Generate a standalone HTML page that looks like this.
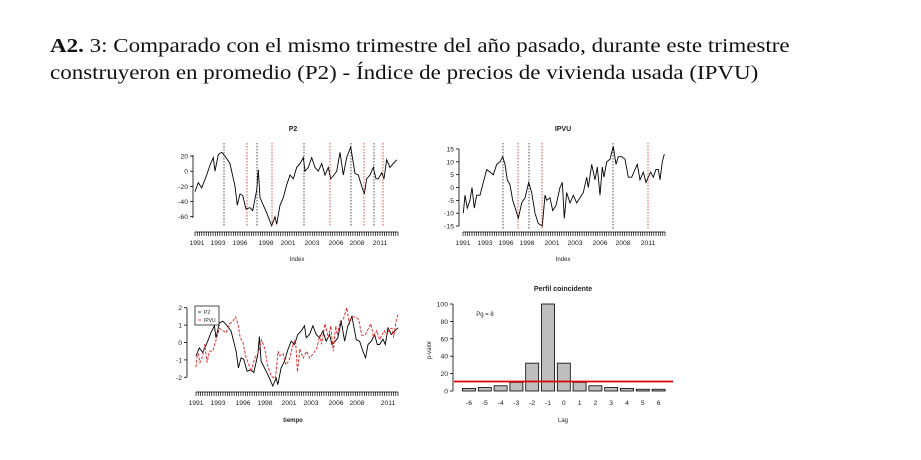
<!DOCTYPE html>
<html><head><meta charset="utf-8"><style>
body{margin:0;background:#fff;width:921px;height:460px;overflow:hidden}
.h{position:absolute;left:50px;font-family:"Liberation Serif",serif;font-size:20px;color:#111;white-space:nowrap;transform-origin:0 0;transform:scaleX(1.15)}
svg{position:absolute;left:0;top:0}
svg text{font-family:"Liberation Sans",sans-serif;fill:#222}
</style></head><body>
<div class="h" style="top:35px"><b>A2.</b> 3: Comparado con el mismo trimestre del año pasado, durante este trimestre</div>
<div class="h" style="top:62px">construyeron en promedio (P2) - Índice de precios de vivienda usada (IPVU)</div>
<svg id="s" width="921" height="460" xmlns="http://www.w3.org/2000/svg">
<g font-size="7" text-anchor="middle">
<text x="293" y="131" font-weight="bold">P2</text>
<text x="563" y="131" font-weight="bold">IPVU</text>
<text x="563" y="291" font-weight="bold">Perfil coincidente</text>
<text x="297" y="261" font-size="6">Index</text>
<text x="563" y="261" font-size="6">Index</text>
<text x="293" y="422" font-size="6" font-weight="bold">tiempo</text>
<text x="563" y="422" font-size="6">Lag</text>
<text x="0" y="0" font-size="6" transform="translate(431,350) rotate(-90)">p-valor</text>
<text x="485" y="316" font-size="6">Pg = 8</text>
</g>
<g id="g"></g>
</svg>
<script>
var g=document.getElementById('g'),h='';
function L(x1,y1,x2,y2,c,w,d){h+='<line x1="'+x1+'" y1="'+y1+'" x2="'+x2+'" y2="'+y2+'" stroke="'+(c||'#000')+'" stroke-width="'+(w||0.8)+'"'+(d?' stroke-dasharray="'+d+'"':'')+'/>';}
function T(x,y,s,a){h+='<text x="'+x+'" y="'+y+'" font-size="6.8" text-anchor="'+(a||'middle')+'">'+s+'</text>';}
function P(pts,c,d,w){h+='<polyline fill="none" stroke="'+c+'" stroke-width="'+(w||0.9)+'"'+(d?' stroke-dasharray="'+d+'"':'')+' points="'+pts.map(function(p){return p[0].toFixed(1)+','+p[1].toFixed(1)}).join(' ')+'"/>';}
var P2=[[105,-27],[115,-15],[125,-22],[140,-5],[150,8],[160,18],[165,0],[175,22],[185,25],[195,20],[210,10],[225,-20],[232,-45],[240,-30],[248,-32],[258,-50],[270,-48],[278,-52],[290,-25],[295,2],[300,-35],[320,-55],[335,-72],[345,-60],[350,-70],[360,-45],[370,-35],[380,-18],[390,-5],[400,-10],[410,5],[420,10],[430,18],[435,0],[445,5],[455,18],[465,5],[475,0],[485,10],[495,-5],[505,5],[512,-10],[522,-5],[530,0],[540,25],[550,-5],[560,18],[572,32],[585,-3],[595,-5],[605,-20],[613,-30],[620,-10],[630,-5],[640,5],[648,-10],[655,-10],[665,-2],[672,-10],[680,15],[690,5],[700,10],[710,15]];
var IP=[[100,-10],[105,-3],[112,-8],[120,-5],[126,0],[133,-8],[140,-3],[150,-3],[160,2],[170,7],[180,6],[190,5],[200,9],[210,10],[218,12],[225,9],[232,3],[240,1],[248,-5],[258,-9],[265,-12],[275,-6],[285,-4],[296,2],[305,-2],[315,-10],[325,-14],[337,-15],[345,-3],[350,-5],[360,-4],[368,-9],[378,-7],[390,0],[397,2],[403,-12],[410,-2],[420,-6],[430,-3],[440,-6],[450,-4],[460,-2],[470,4],[475,0],[485,9],[495,3],[502,8],[510,-3],[517,8],[522,4],[530,10],[540,11],[550,16],[558,9],[565,12],[575,12],[585,11],[595,4],[605,4],[615,7],[622,9],[630,3],[640,6],[648,2],[655,4],[662,6],[670,4],[678,7],[685,7],[690,3],[697,10],[703,13]];
function axisX(x0,x1,y,labs){L(x0,y,x1,y);for(var i=0;i<=90;i++){var x=x0+(x1-x0)*i/90;L(x,y,x,y+4,'#000',0.7);}labs.forEach(function(l){T(l[0],y+13,l[1]);});}
var yrs=['1991','1993','1996','1998','2001','2003','2006','2008','2011'];
var p=P2.map(function(a){return [a[0]/3+160,171.2-0.758*a[1]];});P(p,'#000');
L(193,155,193,218);[20,0,-20,-40,-60].forEach(function(v){var y=171.2-0.758*v;L(190,y,193,y);T(188,y+2.5,v,'end');});
[[224,'#000'],[247,'#c00'],[257,'#000'],[272,'#c00'],[304,'#000'],[330,'#c00'],[351,'#000'],[364,'#c00'],[374,'#000'],[383,'#c00']].forEach(function(d){L(d[0],143,d[0],226,d[1],0.7,'1.5,1.5');});
axisX(195,398,232,[197,218,240,266,288,312,336,357,380].map(function(x,i){return [x,yrs[i]]}));
p=IP.map(function(a){return [a[0]/3+430,187.5-2.57*a[1]];});P(p,'#000');
L(459,149,459,226);[15,10,5,0,-5,-10,-15].forEach(function(v){var y=187.5-2.57*v;L(456,y,459,y);T(454,y+2.5,v,'end');});
[[503,'#000'],[518,'#c00'],[529,'#000'],[542,'#c00'],[613,'#000'],[648,'#c00']].forEach(function(d){L(d[0],143,d[0],229,d[1],0.7,'1.5,1.5');});
axisX(463,665,232,[463,485,506,527,552,575,600,623,648].map(function(x,i){return [x,yrs[i]]}));
p=P2.map(function(a){return [196+(a[0]-105)/605*202,342.5-17.4*((a[1]+7)/26)];});P(p,'#000');
p=IP.map(function(a){return [196+(a[0]-100)/603*202,342.5-17.4*((a[1]-0.8)/7.6)];});P(p,'#d22','3,1.5');
L(187,308,187,377);[2,1,0,-1,-2].forEach(function(v){var y=342.5-17.4*v;L(184,y,187,y);T(182,y+2.5,v,'end');});
h+='<rect x="195" y="306" width="24" height="19" fill="#fff" stroke="#000" stroke-width="0.7"/>';
L(198,312,201,312,'#000');L(198,320,201,320,'#d22');
h+='<text x="204" y="314" font-size="5">P2</text><text x="204" y="322" font-size="5">IPVU</text>';
axisX(196,398,392,[196,218,243,265,289,311,336,357,388].map(function(x,i){return [x,yrs[i]]}));
var vals=[3,4,6,10,32,100,32,10,6,4,3,2,2],lab=['-6','-5','-4','-3','-2','-1','0','1','2','3','4','5','6'];
vals.forEach(function(v,i){var c=469+15.8*i,y=391-0.87*v;h+='<rect x="'+(c-6.5)+'" y="'+y+'" width="13" height="'+(391-y)+'" fill="#bebebe" stroke="#000" stroke-width="0.8"/>';T(c,405,lab[i]);});
L(453,304,453,391);[0,20,40,60,80,100].forEach(function(v){var y=391-0.87*v;L(450,y,453,y);T(448,y+2.5,v,'end');});
L(454,381.5,673,381.5,'#d00',1.8);
g.innerHTML=h;
</script>
</body></html>
